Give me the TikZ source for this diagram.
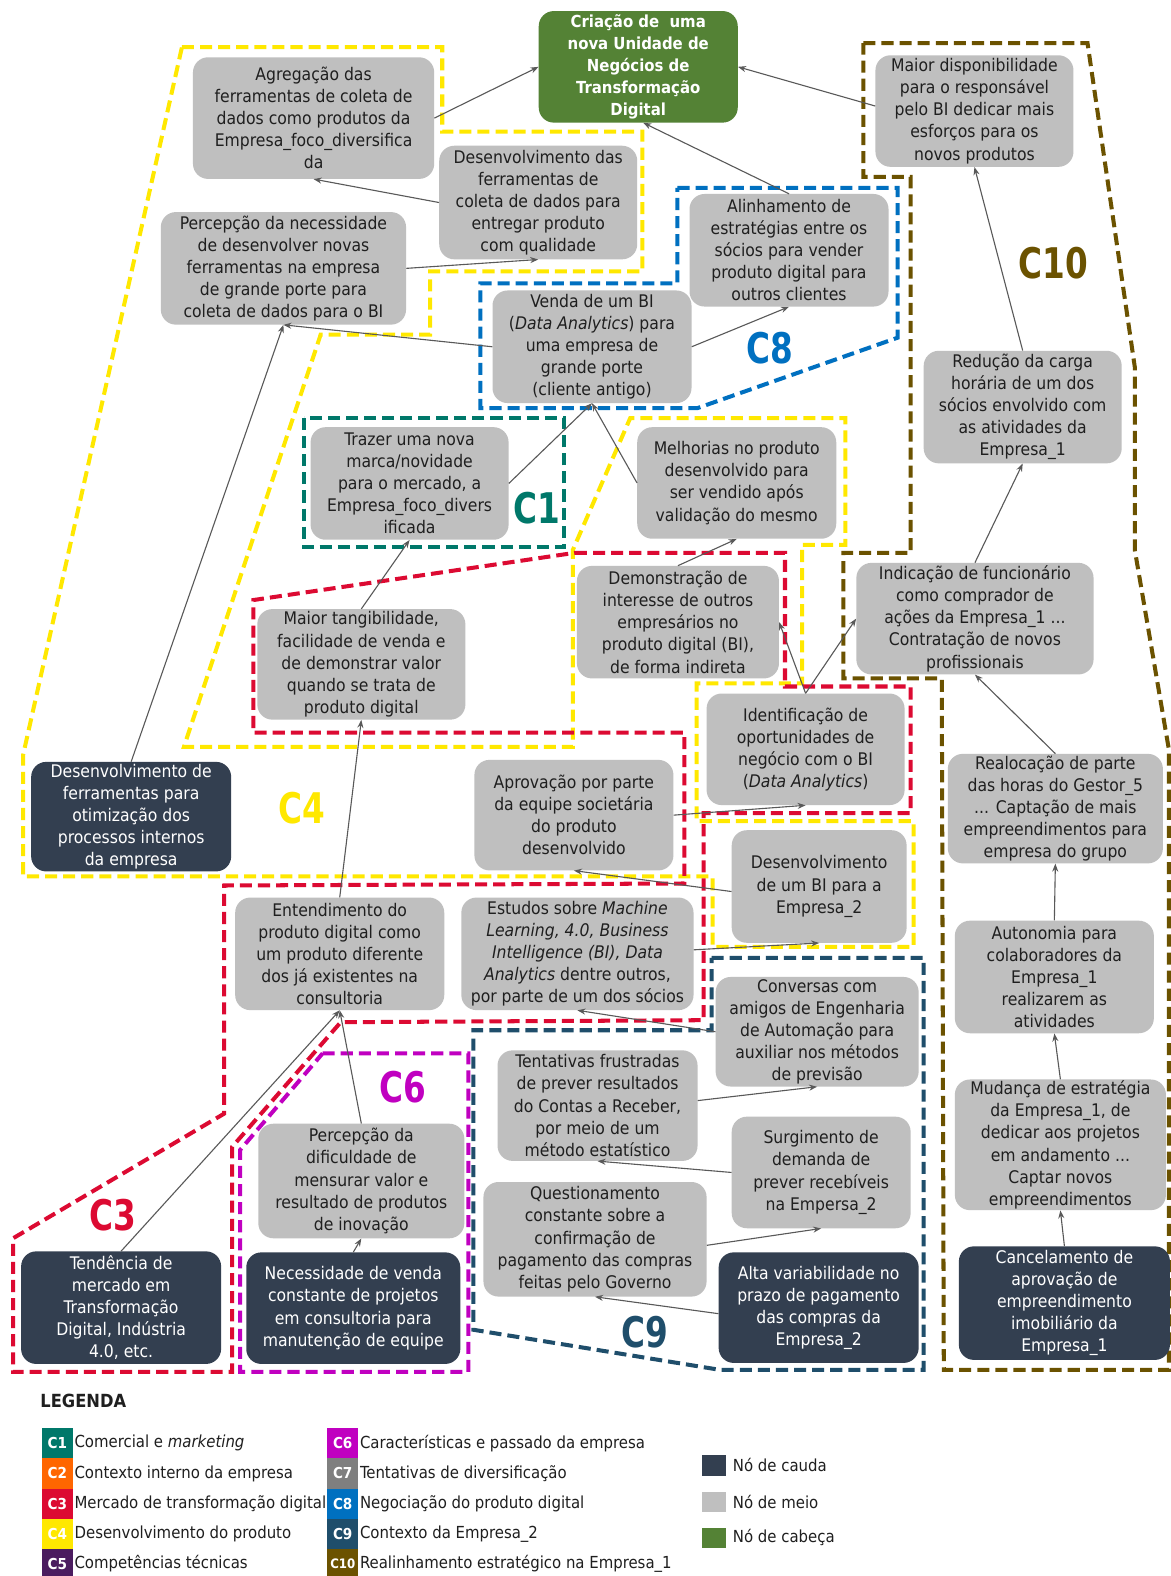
\documentclass[tikz,border=0pt]{standalone}
\usepackage{fontspec}
\setmainfont{DejaVu Sans Condensed}
\usetikzlibrary{arrows.meta}
\definecolor{midgray}{HTML}{BFBFBF}
\definecolor{tailblue}{HTML}{333F50}
\definecolor{headgreen}{HTML}{548235}
\definecolor{arrowgray}{HTML}{595959}
\definecolor{txtdark}{HTML}{1F1F1F}
\definecolor{cOne}{HTML}{00786A}
\definecolor{cTwo}{HTML}{FF6600}
\definecolor{cThree}{HTML}{DC0A32}
\definecolor{cFour}{HTML}{FFE800}
\definecolor{cFive}{HTML}{4B1C5F}
\definecolor{cSix}{HTML}{C000C0}
\definecolor{cSeven}{HTML}{7F7F7F}
\definecolor{cEight}{HTML}{0070C0}
\definecolor{cNine}{HTML}{1F4E6B}
\definecolor{cTen}{HTML}{6B5200}
\newcommand{\rsNodeFont}{\fontsize{17.3}{22}\selectfont}
\newcommand{\rsHeadFont}{\bfseries\fontsize{16.5}{22}\selectfont}
\newcommand{\rsClFont}{\bfseries\fontsize{42}{42}\selectfont}
\newcommand{\rsLegFont}{\fontsize{16.5}{20}\selectfont}
\newcommand{\rsLegSq}{\bfseries\fontsize{15}{15}\selectfont}
\newcommand{\rsLegTitle}{\bfseries\fontsize{18}{20}\selectfont}
\begin{document}
\begin{tikzpicture}[x=1pt,y=-1pt,
  base/.style={rounded corners=15pt, align=center, inner sep=0pt, font=\rsNodeFont},
  mid/.style={base, fill=midgray, text=txtdark},
  tail/.style={base, fill=tailblue, text=white},
  head/.style={base, fill=headgreen, text=white, font=\rsHeadFont},
  arr/.style={draw=arrowgray, line width=1.1pt, -{Stealth[length=8pt,width=6pt]}},
  clus/.style={line width=4pt, dash pattern=on 12pt off 6pt},
  cl/.style={font=\rsClFont, inner sep=0pt, xscale=0.86, transform shape},
  lsq/.style={minimum width=31pt, minimum height=30pt, inner sep=0pt, text=white, font=\rsLegSq},
  ltxt/.style={anchor=west, inner sep=0pt, font=\rsLegFont, text=txtdark},
  nsq/.style={minimum width=24pt, minimum height=20pt, inner sep=0pt}
]
\useasboundingbox[fill=white] (0,0) rectangle (1165,1568);

% ---------------- clusters ----------------
\draw[clus, cFour] (181,47) -- (440,47) -- (440,131) -- (639,131) -- (639,270) -- (428,270) -- (428,333) -- (319,333) -- (183,743) -- (570,743) -- (570,547) -- (627,416) -- (841,416) -- (841,542) -- (798,542) -- (798,680) -- (693,680) -- (693,817) -- (909,817) -- (909,942) -- (709,942) -- (709,872) -- (23,872) -- (23,751) -- cycle;
\draw[clus, cThree] (572,550) -- (781,550) -- (781,683) -- (906,683) -- (906,809) -- (700,809) -- (700,1015) -- (339,1017) -- (231,1141) -- (231,1365) -- (13,1365) -- (13,1232) -- (223,1108) -- (223,881) -- (681,879) -- (681,729) -- (252,729) -- (252,597) -- cycle;
\draw[clus, cSix] (321,1048) -- (466,1048) -- (466,1365) -- (239,1365) -- (239,1144) -- cycle;
\draw[clus, cEight] (674,187) -- (893,187) -- (893,336) -- (694,406) -- (478,406) -- (478,282) -- (674,282) -- cycle;
\draw[clus, cOne] (302,416) rectangle (561,544);
\draw[clus, cNine] (708,953) -- (919,953) -- (919,1363) -- (717,1363) -- (471,1323) -- (471,1025) -- (708,1025) -- cycle;
\draw[clus, cTen] (859,43) -- (1082,43) -- (1129,365) -- (1129,547) -- (1163,746) -- (1163,1363) -- (939,1363) -- (937,675) -- (839,675) -- (839,550) -- (906,550) -- (906,176) -- (859,176) -- cycle;

% ---------------- nodes ----------------
\node[head, minimum width=198pt, minimum height=111pt] (green) at (635,66.5) {Criação de\ \ uma\\nova Unidade de\\Negócios de\\Transformação\\Digital};
\node[mid, minimum width=240pt, minimum height=121pt] (agreg) at (312,117.5) {Agregação das\\ferramentas de coleta de\\dados como produtos da\\Empresa\_foco\_diversifica\\da};
\node[mid, minimum width=197pt, minimum height=113pt] (desenvf) at (535.5,201.5) {Desenvolvimento das\\ferramentas de\\coleta de dados para\\entregar produto\\com qualidade};
\node[mid, minimum width=244pt, minimum height=112pt] (percep) at (282,267) {Percepção da necessidade\\de desenvolver novas\\ferramentas na empresa\\de grande porte para\\coleta de dados para o BI};
\node[mid, minimum width=197pt, minimum height=111pt] (maiordisp) at (969.5,110.5) {Maior disponibilidade\\para o responsável\\pelo BI dedicar mais\\esforços para os\\novos produtos};
\node[mid, minimum width=198pt, minimum height=112pt] (alinh) at (785,249) {Alinhamento de\\estratégias entre os\\sócios para vender\\produto digital para\\outros clientes};
\node[mid, minimum width=198pt, minimum height=112pt] (venda) at (589,345) {Venda de um BI\\(\textit{Data Analytics}) para\\uma empresa de\\grande porte\\(cliente antigo)};
\node[mid, minimum width=197pt, minimum height=112pt] (reduc) at (1017.5,405) {Redução da carga\\horária de um dos\\sócios envolvido com\\as atividades da\\Empresa\_1};
\node[mid, minimum width=197pt, minimum height=112pt] (trazer) at (407.5,481) {Trazer uma nova\\marca/novidade\\para o mercado, a\\Empresa\_foco\_divers\\ificada};
\node[mid, minimum width=198pt, minimum height=111pt] (melhor) at (733,480.5) {Melhorias no produto\\desenvolvido para\\ser vendido após\\validação do mesmo};
\node[mid, minimum width=201pt, minimum height=112pt] (demo) at (674.5,619) {Demonstração de\\interesse de outros\\empresários no\\produto digital (BI),\\de forma indireta};
\node[mid, minimum width=236pt, minimum height=111pt] (indic) at (970,615.5) {Indicação de funcionário\\como comprador de\\ações da Empresa\_1 ...\\Contratação de novos\\profissionais};
\node[mid, minimum width=207pt, minimum height=110pt] (tang) at (359.5,661) {Maior tangibilidade,\\facilidade de venda e\\de demonstrar valor\\quando se trata de\\produto digital};
\node[mid, minimum width=197pt, minimum height=111pt] (ident) at (801.5,745.5) {Identificação de\\oportunidades de\\negócio com o BI\\(\textit{Data Analytics})};
\node[mid, minimum width=214pt, minimum height=109pt] (realoc) at (1050,804.5) {Realocação de parte\\das horas do Gestor\_5\\... Captação de mais\\empreendimentos para\\empresa do grupo};
\node[tail, minimum width=199pt, minimum height=109pt] (darkdev) at (130.5,812.5) {Desenvolvimento de\\ferramentas para\\otimização dos\\processos internos\\da empresa};
\node[mid, minimum width=198pt, minimum height=110pt] (aprov) at (571,811) {Aprovação por parte\\da equipe societária\\do produto\\desenvolvido};
\node[mid, minimum width=174pt, minimum height=112pt] (devbi) at (815,882) {Desenvolvimento\\de um BI para a\\Empresa\_2};
\node[mid, minimum width=208pt, minimum height=112pt] (entend) at (338,949) {Entendimento do\\produto digital como\\um produto diferente\\dos já existentes na\\consultoria};
\node[mid, minimum width=231pt, minimum height=112pt] (estudos) at (574.5,949) {Estudos sobre \textit{Machine}\\\textit{Learning, 4.0, Business}\\\textit{Intelligence (BI), Data}\\\textit{Analytics} dentre outros,\\por parte de um dos sócios};
\node[mid, minimum width=198pt, minimum height=112pt] (auton) at (1049,972) {Autonomia para\\colaboradores da\\Empresa\_1\\realizarem as\\atividades};
\node[mid, minimum width=202pt, minimum height=109pt] (convers) at (813,1026.5) {Conversas com\\amigos de Engenharia\\de Automação para\\auxiliar nos métodos\\de previsão};
\node[mid, minimum width=199pt, minimum height=110pt] (tentat) at (594.5,1100) {Tentativas frustradas\\de prever resultados\\do Contas a Receber,\\por meio de um\\método estatístico};
\node[mid, minimum width=210pt, minimum height=130pt] (mudanca) at (1055,1139) {Mudança de estratégia\\da Empresa\_1, de\\dedicar aos projetos\\em andamento ...\\Captar novos\\empreendimentos};
\node[mid, minimum width=205pt, minimum height=114pt] (percdif) at (359.5,1175) {Percepção da\\dificuldade de\\mensurar valor e\\resultado de produtos\\de inovação};
\node[mid, minimum width=178pt, minimum height=111pt] (surg) at (817,1166.5) {Surgimento de\\demanda de\\prever recebíveis\\na Empersa\_2};
\node[mid, minimum width=222pt, minimum height=114pt] (quest) at (592,1233) {Questionamento\\constante sobre a\\confirmação de\\pagamento das compras\\feitas pelo Governo};
\node[tail, minimum width=199pt, minimum height=112pt] (tend) at (120.5,1301) {Tendência de\\mercado em\\Transformação\\Digital, Indústria\\4.0, etc.};
\node[tail, minimum width=213pt, minimum height=111pt] (necess) at (351.5,1301.5) {Necessidade de venda\\constante de projetos\\em consultoria para\\manutenção de equipe};
\node[tail, minimum width=199pt, minimum height=110pt] (alta) at (814.5,1301) {Alta variabilidade no\\prazo de pagamento\\das compras da\\Empresa\_2};
\node[tail, minimum width=210pt, minimum height=113pt] (cancel) at (1059,1296.5) {Cancelamento de\\aprovação de\\empreendimento\\imobiliário da\\Empresa\_1};

% ---------------- connectors ----------------
\draw[arr] (agreg.east) -- (green.west);
\draw[arr] ([yshift=5pt]maiordisp.west) -- (green.east);
\draw[arr] (alinh.north) -- ([xshift=5pt]green.south);
\draw[arr] (desenvf.west) -- (agreg.south);
\draw[arr] (percep.east) -- (desenvf.south);
\draw[arr] (venda.west) -- (percep.south);
\draw[arr] (darkdev.north) -- (percep.south);
\draw[arr] (venda.east) -- (alinh.south);
\draw[arr] (trazer.east) -- (venda.south);
\draw[arr] (melhor.west) -- (venda.south);
\draw[arr] (tang.north) -- (trazer.south);
\draw[arr] (demo.north) -- (melhor.south);
\draw[arr] (ident.north) -- (demo.east);
\draw[arr] (ident.north) -- (indic.west);
\draw[arr] (indic.north) -- (reduc.south);
\draw[arr] (reduc.north) -- (maiordisp.south);
\draw[arr] (realoc.north) -- (indic.south);
\draw[arr] (auton.north) -- (realoc.south);
\draw[arr] (mudanca.north) -- (auton.south);
\draw[arr] (cancel.north) -- (mudanca.south);
\draw[arr] (aprov.east) -- (ident.south);
\draw[arr] ([yshift=-5pt]devbi.west) -- (aprov.south);
\draw[arr] ([yshift=4pt]estudos.east) -- (devbi.south);
\draw[arr] (entend.north) -- (tang.south);
\draw[arr] (tend.north) -- (entend.south);
\draw[arr] (percdif.north) -- (entend.south);
\draw[arr] (necess.north) -- (percdif.south);
\draw[arr] (convers.west) -- (estudos.south);
\draw[arr] ([yshift=5pt]tentat.east) -- (convers.south);
\draw[arr] (surg.west) -- (tentat.south);
\draw[arr] ([yshift=-6pt]quest.east) -- (surg.south);
\draw[arr] ([yshift=-6pt]alta.west) -- (quest.south);

% ---------------- cluster labels ----------------
\node[cl, text=cTen] (lCten) at (1048,262) {C10};
\node[cl, text=cEight] (lCeight) at (766,346) {C8};
\node[cl, text=cOne] (lCone) at (534,506) {C1};
\node[cl, text=cFour] (lCfour) at (300,804) {C4};
\node[cl, text=cSix] (lCsix) at (401,1082) {C6};
\node[cl, text=cThree] (lCthree) at (112,1209) {C3};
\node[cl, text=cNine] (lCnine) at (642,1325) {C9};

% ---------------- legend ----------------
\node[anchor=west, inner sep=0pt, font=\rsLegTitle, text=txtdark] (legtitle) at (40,1394) {LEGENDA};
\node[lsq, fill=cOne] (sqa) at (57,1436) {C1};
\node[lsq, fill=cTwo] (sqb) at (57,1466) {C2};
\node[lsq, fill=cThree] (sqc) at (57,1496) {C3};
\node[lsq, fill=cFour] (sqd) at (57,1526) {C4};
\node[lsq, fill=cFive] (sqe) at (57,1556) {C5};
\node[ltxt] (ta) at (74,1436) {Comercial e \textit{marketing}};
\node[ltxt] (tb) at (74,1466) {Contexto interno da empresa};
\node[ltxt] (tc) at (74,1496) {Mercado de transformação digital};
\node[ltxt] (td) at (74,1526) {Desenvolvimento do produto};
\node[ltxt] (te) at (74,1556) {Competências técnicas};
\node[lsq, fill=cSix] (sqf) at (341,1436) {C6};
\node[lsq, fill=cSeven] (sqg) at (341,1466) {C7};
\node[lsq, fill=cEight] (sqh) at (341,1496) {C8};
\node[lsq, fill=cNine] (sqi) at (341,1526) {C9};
\node[lsq, fill=cTen, font=\bfseries\fontsize{13}{13}\selectfont] (sqj) at (341,1556) {C10};
\node[ltxt] (tf) at (358,1436) {Características e passado da empresa};
\node[ltxt] (tg) at (358,1466) {Tentativas de diversificação};
\node[ltxt] (th) at (358,1496) {Negociação do produto digital};
\node[ltxt] (ti) at (358,1526) {Contexto da Empresa\_2};
\node[ltxt] (tj) at (358,1556) {Realinhamento estratégico na Empresa\_1};
\node[nsq, fill=tailblue] (nqa) at (710,1458) {};
\node[nsq, fill=midgray] (nqb) at (710,1494) {};
\node[nsq, fill=headgreen] (nqc) at (710,1530) {};
\node[ltxt] (nta) at (729,1458) {Nó de cauda};
\node[ltxt] (ntb) at (729,1494) {Nó de meio};
\node[ltxt] (ntc) at (729,1530) {Nó de cabeça};
\end{tikzpicture}
\end{document}
